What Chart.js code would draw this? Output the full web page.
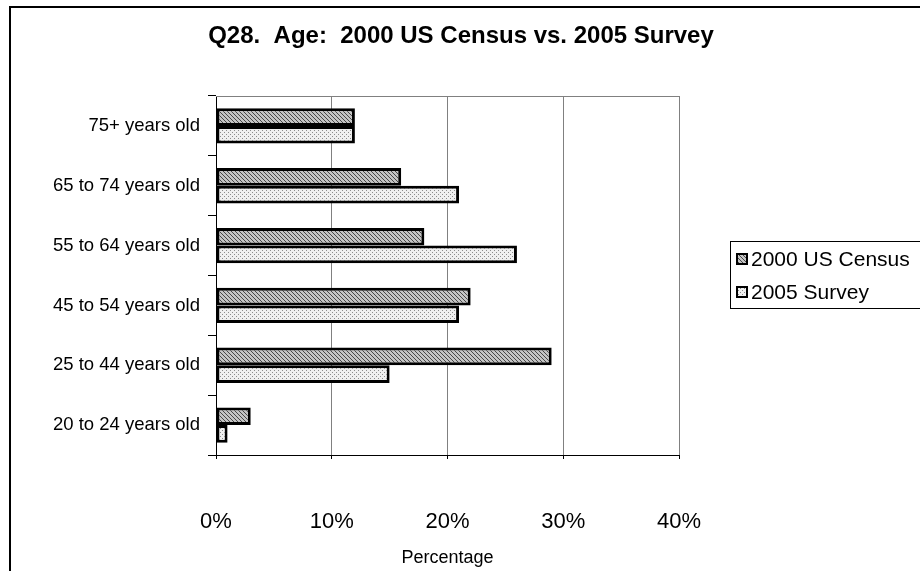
<!DOCTYPE html>
<html>
<head>
<meta charset="utf-8">
<script src="https://cdn.jsdelivr.net/npm/chart.js@4"></script>
<style>
  html, body { margin: 0; padding: 0; background: #fff; }
  #wrap { width: 920px; height: 571px; }
</style>
</head>
<body>
<div id="wrap"><canvas id="c" width="920" height="571"></canvas></div>
<script>
// Age groups, listed top to bottom
const categories = [
  '75+ years old',
  '65 to 74 years old',
  '55 to 64 years old',
  '45 to 54 years old',
  '25 to 44 years old',
  '20 to 24 years old'
];
const seriesNames = ['2000 US Census', '2005 Survey'];
const census2000 = [12, 16, 18, 22, 29, 3];
const survey2005 = [12, 21, 26, 21, 15, 1];
const xTicks = [0, 10, 20, 30, 40];
const chartTitle = 'Q28.  Age:  2000 US Census vs. 2005 Survey';
const xAxisTitle = 'Percentage';

const FONT = "Arial, 'Liberation Sans', sans-serif";

// Fill patterns: dark diagonal hatch and light stipple
function hatchPattern() {
  const c = document.createElement('canvas');
  c.width = 4; c.height = 4;
  const g = c.getContext('2d');
  g.fillStyle = '#c4c4c4';
  g.fillRect(0, 0, 4, 4);
  g.fillStyle = '#484848';
  for (let i = 0; i < 4; i++) g.fillRect(i, i, 1, 1);
  return g.createPattern(c, 'repeat');
}
function dotPattern() {
  const c = document.createElement('canvas');
  c.width = 4; c.height = 4;
  const g = c.getContext('2d');
  g.fillStyle = '#f0f0f0';
  g.fillRect(0, 0, 4, 4);
  g.fillStyle = '#8c8c8c';
  g.fillRect(0, 0, 1, 1);
  g.fillRect(2, 2, 1, 1);
  return g.createPattern(c, 'repeat');
}
const fills = [hatchPattern(), dotPattern()];

// Outer frame, plot border and title
const framePlugin = {
  id: 'frame',
  beforeDraw(chart) {
    const ctx = chart.ctx;
    ctx.save();
    ctx.fillStyle = '#fff';
    ctx.fillRect(0, 0, chart.width, chart.height);
    ctx.strokeStyle = '#000';
    ctx.lineWidth = 2;
    ctx.strokeRect(10, 7, 1000, 1000);
    ctx.restore();
  },
  beforeDatasetsDraw(chart) {
    const a = chart.chartArea, ctx = chart.ctx;
    ctx.save();
    ctx.strokeStyle = '#808080';
    ctx.lineWidth = 1;
    ctx.beginPath();
    ctx.moveTo(a.left, Math.round(a.top) + 0.5);
    ctx.lineTo(a.right, Math.round(a.top) + 0.5);
    ctx.stroke();
    ctx.restore();
  },
  afterDraw(chart) {
    const ctx = chart.ctx;
    ctx.save();
    ctx.fillStyle = '#000';
    ctx.font = 'bold 24px ' + FONT;
    ctx.textAlign = 'center';
    ctx.textBaseline = 'middle';
    ctx.fillText(chartTitle, 461, 36);
    ctx.restore();
  }
};

// Boxed legend on the right side
const legendPlugin = {
  id: 'boxLegend',
  afterDraw(chart) {
    const ctx = chart.ctx;
    ctx.save();
    ctx.strokeStyle = '#000';
    ctx.lineWidth = 1;
    ctx.strokeRect(730.5, 241.5, 300, 67);
    ctx.font = '21px ' + FONT;
    ctx.textBaseline = 'middle';
    ctx.textAlign = 'left';
    chart.data.datasets.forEach((ds, i) => {
      const y = 259 + i * 33;
      ctx.fillStyle = ds.backgroundColor;
      ctx.fillRect(737, y - 5, 10, 10);
      ctx.strokeStyle = '#000';
      ctx.lineWidth = 2;
      ctx.strokeRect(737, y - 5, 10, 10);
      ctx.fillStyle = '#000';
      ctx.fillText(ds.label, 751, y + 1);
    });
    ctx.restore();
  }
};

new Chart(document.getElementById('c'), {
  type: 'bar',
  data: {
    labels: categories,
    datasets: [
      { label: seriesNames[0], data: census2000, backgroundColor: fills[0],
        borderColor: '#000', borderWidth: 3, borderSkipped: false },
      { label: seriesNames[1], data: survey2005, backgroundColor: fills[1],
        borderColor: '#000', borderWidth: 3, borderSkipped: false }
    ]
  },
  options: {
    indexAxis: 'y',
    responsive: false,
    animation: false,
    devicePixelRatio: 1,
    layout: { padding: { left: 10, right: 241, top: 96, bottom: 0 } },
    datasets: { bar: { categoryPercentage: 0.59, barPercentage: 1.0 } },
    plugins: {
      legend: { display: false },
      title: { display: false },
      tooltip: { enabled: false }
    },
    scales: {
      x: {
        min: 0, max: 40,
        afterBuildTicks(scale) { scale.ticks = xTicks.map(v => ({ value: v })); },
        afterFit(scale) { scale.height = 116; },
        grid: { color: '#808080', lineWidth: 1, tickLength: 4, tickColor: '#000' },
        border: { color: '#000', width: 1 },
        ticks: {
          color: '#000', padding: 50,
          font: { family: FONT, size: 22 },
          callback: v => v + '%'
        },
        title: {
          display: true, text: xAxisTitle, color: '#000',
          font: { family: FONT, size: 18 }, padding: { top: 0, bottom: 2 }
        }
      },
      y: {
        afterFit(scale) { scale.width = 206; },
        grid: { offset: true, drawOnChartArea: false, tickLength: 8, color: '#000' },
        border: { color: '#000', width: 1 },
        ticks: { color: '#000', padding: 8, font: { family: FONT, size: 18.5 } }
      }
    }
  },
  plugins: [framePlugin, legendPlugin]
});
</script>
</body>
</html>
